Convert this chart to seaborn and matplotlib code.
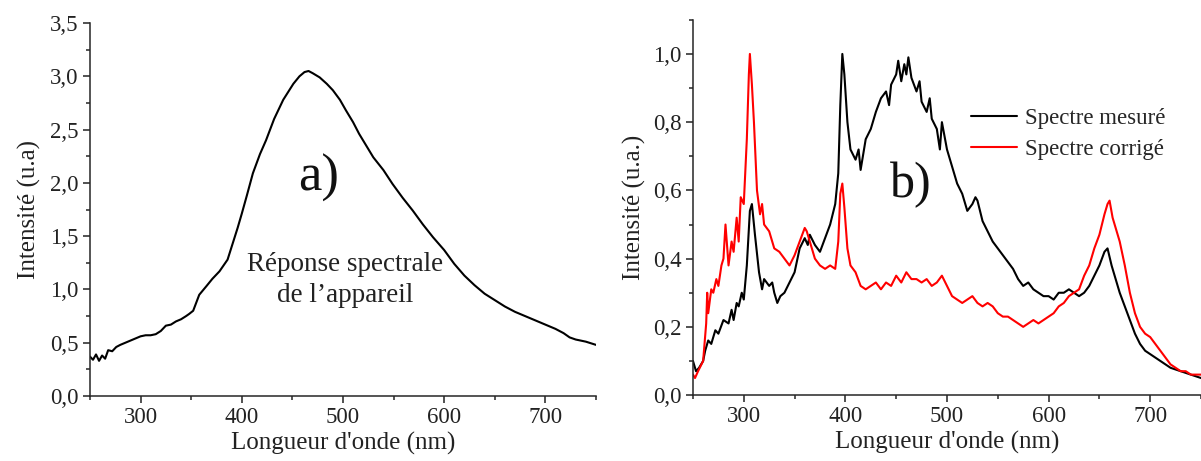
import pandas as pd
import matplotlib
matplotlib.use('Agg')
import matplotlib.pyplot as plt
import seaborn as sns
from matplotlib.ticker import MultipleLocator, FuncFormatter

# Panel a) : instrument spectral response
resp_nm = [250, 253, 256, 259, 262, 265, 268, 272, 276, 280, 285, 290, 295, 300,
           305, 310, 315, 320, 325, 330, 335, 340, 345, 348, 352, 358, 365, 371,
           378, 386, 391, 396, 400, 405, 411, 418, 424, 432, 441, 451, 457, 462,
           466, 470, 477, 484, 490, 497, 503, 510, 516, 523, 530, 540, 549, 559,
           569, 579, 589, 600, 610, 620, 630, 640, 650, 660, 670, 680, 690, 700,
           710, 718, 724, 730, 740, 750]
resp_val = [0.37, 0.34, 0.39, 0.33, 0.38, 0.35, 0.43, 0.42, 0.46, 0.48, 0.50, 0.52,
            0.54, 0.56, 0.57, 0.57, 0.58, 0.61, 0.66, 0.67, 0.70, 0.72, 0.75, 0.77,
            0.80, 0.95, 1.03, 1.10, 1.17, 1.28, 1.43, 1.58, 1.71, 1.88, 2.09, 2.27,
            2.40, 2.60, 2.78, 2.93, 3.00, 3.04, 3.05, 3.03, 2.99, 2.93, 2.87, 2.78,
            2.68, 2.57, 2.46, 2.35, 2.24, 2.12, 1.99, 1.86, 1.74, 1.61, 1.49, 1.37,
            1.24, 1.13, 1.04, 0.96, 0.90, 0.84, 0.79, 0.75, 0.71, 0.67, 0.63, 0.59,
            0.55, 0.53, 0.51, 0.48]

# Panel b) : measured and corrected spectra
meas_nm = [250, 253, 256, 260, 262, 265, 268, 272, 275, 280, 285, 288, 290, 293,
           295, 298, 300, 303, 306, 308, 311, 315, 318, 320, 325, 328, 330, 333,
           336, 340, 345, 350, 355, 360, 363, 365, 370, 375, 380, 385, 390, 393,
           395, 397, 399, 402, 405, 410, 413, 415, 420, 425, 430, 435, 440, 443,
           445, 450, 452, 455, 458, 460, 462, 465, 470, 473, 475, 480, 483, 485,
           490, 493, 495, 500, 505, 510, 515, 520, 525, 528, 530, 535, 540, 545,
           550, 555, 560, 565, 570, 575, 580, 585, 590, 595, 600, 605, 610, 615,
           620, 625, 630, 635, 640, 645, 650, 655, 658, 662, 665, 670, 675, 680,
           685, 690, 695, 700, 710, 720, 730, 740, 750]
meas_val = [0.10, 0.07, 0.08, 0.10, 0.13, 0.16, 0.15, 0.19, 0.18, 0.22, 0.21, 0.25,
            0.22, 0.27, 0.26, 0.30, 0.28, 0.38, 0.54, 0.56, 0.47, 0.36, 0.31, 0.34,
            0.32, 0.33, 0.30, 0.27, 0.29, 0.30, 0.33, 0.36, 0.43, 0.46, 0.44, 0.47,
            0.44, 0.42, 0.46, 0.50, 0.56, 0.65, 0.85, 1.00, 0.94, 0.80, 0.72, 0.69,
            0.72, 0.66, 0.75, 0.78, 0.83, 0.87, 0.89, 0.85, 0.91, 0.94, 0.98, 0.92,
            0.97, 0.94, 0.99, 0.93, 0.89, 0.92, 0.86, 0.83, 0.87, 0.81, 0.78, 0.72,
            0.80, 0.72, 0.67, 0.62, 0.59, 0.54, 0.56, 0.58, 0.57, 0.51, 0.48, 0.45,
            0.43, 0.41, 0.39, 0.37, 0.34, 0.32, 0.33, 0.31, 0.30, 0.29, 0.29, 0.28,
            0.30, 0.30, 0.31, 0.30, 0.29, 0.30, 0.32, 0.35, 0.38, 0.42, 0.43, 0.38,
            0.35, 0.30, 0.26, 0.22, 0.18, 0.15, 0.13, 0.12, 0.10, 0.08, 0.07, 0.06,
            0.05]

corr_nm = [250, 252, 255, 260, 263, 264, 265, 268, 270, 273, 275, 278, 280, 282,
           285, 288, 290, 293, 295, 297, 300, 303, 305, 306, 308, 310, 313, 316,
           318, 320, 325, 330, 335, 340, 345, 350, 355, 360, 362, 365, 370, 375,
           380, 385, 390, 393, 395, 397, 399, 402, 405, 410, 415, 420, 425, 430,
           435, 440, 445, 450, 455, 460, 465, 470, 475, 480, 485, 490, 495, 500,
           505, 510, 515, 520, 525, 530, 535, 540, 545, 550, 555, 560, 565, 570,
           575, 580, 585, 590, 595, 600, 605, 610, 615, 620, 625, 630, 635, 640,
           645, 650, 655, 658, 660, 663, 666, 670, 675, 680, 685, 690, 695, 700,
           705, 710, 715, 720, 725, 730, 735, 740, 745, 750]
corr_val = [0.06, 0.05, 0.07, 0.10, 0.21, 0.30, 0.24, 0.31, 0.30, 0.34, 0.32, 0.38,
            0.40, 0.50, 0.38, 0.45, 0.42, 0.52, 0.45, 0.58, 0.56, 0.75, 0.94, 1.00,
            0.91, 0.80, 0.60, 0.53, 0.56, 0.50, 0.48, 0.43, 0.42, 0.40, 0.38, 0.41,
            0.45, 0.49, 0.48, 0.45, 0.40, 0.38, 0.37, 0.38, 0.37, 0.45, 0.59, 0.62,
            0.55, 0.43, 0.38, 0.36, 0.32, 0.31, 0.32, 0.33, 0.31, 0.33, 0.32, 0.35,
            0.33, 0.36, 0.34, 0.34, 0.33, 0.34, 0.32, 0.33, 0.35, 0.32, 0.29, 0.28,
            0.27, 0.28, 0.29, 0.27, 0.26, 0.27, 0.26, 0.24, 0.23, 0.23, 0.22, 0.21,
            0.20, 0.21, 0.22, 0.21, 0.22, 0.23, 0.24, 0.26, 0.27, 0.29, 0.30, 0.31,
            0.35, 0.38, 0.43, 0.47, 0.53, 0.56, 0.57, 0.52, 0.49, 0.45, 0.38, 0.30,
            0.24, 0.20, 0.18, 0.17, 0.15, 0.13, 0.11, 0.09, 0.08, 0.07, 0.07, 0.06,
            0.06, 0.06]

df_a = pd.DataFrame({'nm': resp_nm, 'val': resp_val})
df_meas = pd.DataFrame({'nm': meas_nm, 'val': meas_val})
df_corr = pd.DataFrame({'nm': corr_nm, 'val': corr_val})

sns.set_theme(style='ticks')
plt.rcParams['font.family'] = ['Liberation Serif', 'DejaVu Serif']
plt.rcParams['axes.linewidth'] = 1.1
plt.rcParams['xtick.direction'] = 'out'
plt.rcParams['ytick.direction'] = 'out'

fig = plt.figure(figsize=(12.01, 4.61), dpi=100)
ax1 = fig.add_axes([0.0749, 0.141, 0.4213, 0.809])
ax2 = fig.add_axes([0.577, 0.143, 0.423, 0.814])

comma = FuncFormatter(lambda v, p: f"{v:.1f}".replace('.', ','))

# panel a
sns.lineplot(data=df_a, x='nm', y='val', ax=ax1, color='black', lw=1.5,
             estimator=None, sort=False)
ax1.set_xlim(250, 750)
ax1.set_ylim(0, 3.5)
ax1.yaxis.set_major_locator(MultipleLocator(0.5))
ax1.yaxis.set_minor_locator(MultipleLocator(0.25))
ax1.set_ylabel('Intensité (u.a)', fontsize=18, color='#222222', labelpad=7)
ax1.text(476, 2.05, 'a)', fontsize=38, ha='center', va='center', color='#111111')
ax1.text(502, 1.09, 'Réponse spectrale\nde l\u2019appareil', fontsize=19.5,
         ha='center', va='center', linespacing=1.3, color='#222222')

# panel b
sns.lineplot(data=df_meas, x='nm', y='val', ax=ax2, color='black', lw=1.5,
             estimator=None, sort=False, label='Spectre mesuré')
sns.lineplot(data=df_corr, x='nm', y='val', ax=ax2, color='red', lw=1.5,
             estimator=None, sort=False, label='Spectre corrigé')
ax2.set_xlim(250, 750)
ax2.set_ylim(0, 1.1)
ax2.yaxis.set_major_locator(MultipleLocator(0.2))
ax2.yaxis.set_minor_locator(MultipleLocator(0.1))
ax2.set_ylabel('Intensité (u.a.)', fontsize=18, color='#222222', labelpad=5)
ax2.text(464, 0.616, 'b)', fontsize=36, ha='center', va='center', color='#111111')
ax2.legend(loc='upper left', bbox_to_anchor=(0.53, 0.79), frameon=False,
           fontsize=16.5, handlelength=2.0, handletextpad=0.35, labelspacing=0.45,
           borderaxespad=0)

for ax in (ax1, ax2):
    sns.despine(ax=ax)
    ax.xaxis.set_major_locator(MultipleLocator(100))
    ax.xaxis.set_minor_locator(MultipleLocator(50))
    ax.yaxis.set_major_formatter(comma)
    ax.set_xlabel("Longueur d'onde (nm)", fontsize=18, color='#222222', labelpad=3)
    ax.tick_params(which='major', length=5, width=1.1, labelsize=16.5,
                   colors='#222222', pad=3)
    ax.tick_params(which='minor', length=3, width=1.1)
    ax.xaxis.set_tick_params(which='both', bottom=True)
    ax.yaxis.set_tick_params(which='both', left=True)
    ax.patch.set_alpha(0)

fig.savefig('out.png', dpi=100)
